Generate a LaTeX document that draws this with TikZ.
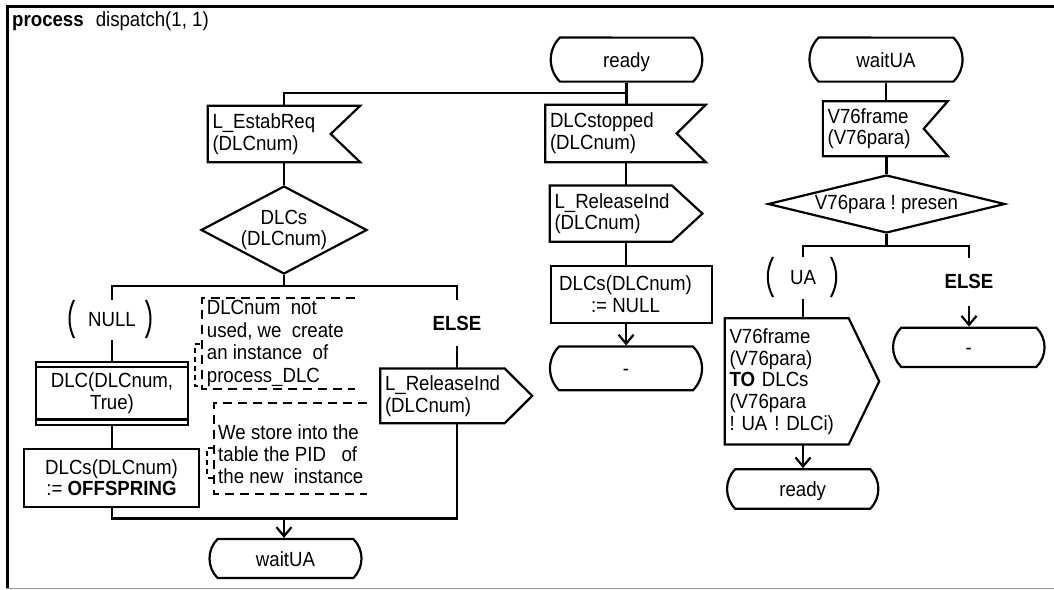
\documentclass[tikz,border=0pt]{standalone}
\usepackage{fontspec}
\setmainfont{Liberation Sans}[FakeStretch=0.91]
\usetikzlibrary{shapes.geometric,shapes.misc,arrows.meta}
\frenchspacing
\newcommand\sdlinput[2]{\draw[ln] (#1.north west) -- (#1.north east) -- ([xshift=-#2pt]#1.east) -- (#1.south east) -- (#1.south west) -- cycle;}
\newcommand\sdloutput[2]{\draw[ln] (#1.north west) -- ([xshift=-#2pt]#1.north east) -- (#1.east) -- ([xshift=-#2pt]#1.south east) -- (#1.south west) -- cycle;}
\newcommand\sdlcreate[1]{\draw[ln] ([yshift=-6.5pt]#1.north west) -- ([yshift=-6.5pt]#1.north east); \draw[ln] ([yshift=6.5pt]#1.south west) -- ([yshift=6.5pt]#1.south east);}
\begin{document}
\frenchspacing
\begin{tikzpicture}[x=1pt,y=-1pt,
  every node/.style={font=\fontsize{20.5}{21.7}\selectfont, inner sep=0pt},
  ln/.style={line width=2.2pt, line join=miter},
  arr/.style={ln, -{Straight Barb[length=9pt,width=15pt]}},
  cmt/.style={line width=2.2pt, dash pattern=on 9pt off 6pt},
  state/.style={draw, ln, rounded rectangle, rounded rectangle arc length=90, text height=15pt, text depth=0pt},
  task/.style={draw, ln, rectangle, align=center},
  dec/.style={draw, ln, diamond, align=center},
  sig/.style={rectangle, align=left, inner xsep=4.5pt, inner ysep=0pt},
  lbl/.style={rectangle, align=center},
  paren/.style={line width=2pt}
]
\useasboundingbox (0,0) rectangle (1054,589);
% frame
\draw[line width=3pt] (7.5,588) -- (7.5,6.7) -- (1054,6.7);
\draw[line width=1.3pt, black!40] (6,588.3) -- (1054,588.3);
\node[anchor=base west] (hdr) at (12,26.5) {\textbf{process}\hspace{12pt}dispatch(1, 1)};

% top states
\node[state, minimum width=151.5pt, minimum height=44pt] (ready) at (626.5,59.6) {ready};
\node[state, minimum width=153pt, minimum height=44pt] (waitT) at (886,59.6) {waitUA};

% inputs
\node[sig, text width=143pt, minimum height=56pt] (estab) at (284,134) {L\_EstabReq\\(DLCnum)};
\sdlinput{estab}{29.5}
\node[sig, text width=151pt, minimum height=57pt] (stopped) at (625.5,133.5) {DLCstopped\\(DLCnum)};
\sdlinput{stopped}{29}
\node[sig, text width=115.5pt, minimum height=54.5pt] (vin) at (885.3,128.7) {V76frame\\(V76para)};
\sdlinput{vin}{24}

% decisions
\node[dec, aspect=1.89, minimum width=166pt, minimum height=88pt] (dlcs) at (284,230) {DLCs\\(DLCnum)};
\node[dec, aspect=4.09, minimum width=237pt, minimum height=58pt] (vdec) at (886.5,204) {V76para ! presen};

% middle column
\node[sig, text width=143.2pt, minimum height=56pt] (rel2) at (626.1,213.6) {L\_ReleaseInd\\(DLCnum)};
\sdloutput{rel2}{30.6}
\node[task, minimum width=161.7pt, minimum height=57.6pt] (tnull) at (631.5,294.5) {DLCs(DLCnum)\hspace*{12pt}\\:= NULL\hspace*{12pt}};
\node[state, minimum width=152pt, minimum height=43.7pt] (dash1) at (626,368.4) {-};

% left branches
\node[lbl, minimum height=39.5pt] (null) at (112,319.75) {NULL};
\draw[paren] (74,300) .. controls (68,312) and (68,326) .. (74,338);
\draw[paren] (146,300) .. controls (152,312) and (152,326) .. (146,338);
\node[lbl, minimum height=46pt, font=\fontsize{20.5}{21.7}\selectfont\bfseries] (else1) at (457,323) {ELSE};
\node[task, minimum width=152pt, minimum height=63pt] (crt) at (112,393.3) {DLC(DLCnum,\\True)};
\sdlcreate{crt}
\node[task, minimum width=175pt, minimum height=57.8pt] (toff) at (111.5,477.8) {DLCs(DLCnum)\\:= \textbf{OFFSPRING}};
\node[sig, text width=142.5pt, minimum height=54.3pt] (rel1) at (456.25,395.85) {L\_ReleaseInd\\(DLCnum)};
\sdloutput{rel1}{27.5}
\node[state, minimum width=152pt, minimum height=39pt] (waitB) at (285.5,558.5) {waitUA};

% comments
\node[anchor=north west, align=left, inner sep=0pt, font=\fontsize{20.5}{22.5}\selectfont] (c1) at (206.7,300) {DLCnum\ \ not\\used, we\ \ create\\an instance\ \ of\\process\_DLC};
\draw[cmt] (355,298) -- (202,298) -- (202,389) -- (355,389);
\draw[cmt, dash pattern=on 5pt off 4pt] (200,344) -- (195,344) -- (195,386) -- (201,386);
\node[anchor=north west, align=left, inner sep=0pt, font=\fontsize{20.5}{22}\selectfont] (c2) at (218,424) {We store into the\\table the PID\ \ \ of\\the new\ \ instance};
\draw[cmt] (367,403) -- (214,403) -- (214,494) -- (367,494);
\draw[cmt, dash pattern=on 5pt off 4pt] (213,448) -- (207.3,448) -- (207.3,478) -- (213,478);

% right column
\node[lbl, minimum height=42pt] (ua) at (803,278) {UA};
\draw[paren] (773,257) .. controls (766,270) and (766,284) .. (773,297);
\draw[paren] (831,257) .. controls (838,270) and (838,284) .. (831,297);
\node[lbl, minimum height=47.6pt, font=\fontsize{20.5}{21.7}\selectfont\bfseries] (else2) at (969,281.8) {ELSE};
\node[sig, text width=145pt, minimum height=125.8pt] (vout) at (802,381.4) {V76frame\\(V76para)\\\textbf{TO} DLCs\\(V76para\\! UA ! DLCi)};
\sdloutput{vout}{30.5}
\node[state, minimum width=151.3pt, minimum height=39.5pt] (readyB) at (802.7,489) {ready};
\node[state, minimum width=151.5pt, minimum height=39.2pt] (dash2) at (968.8,347.3) {-};

% connectors
\coordinate (j1) at (626.5,93);
\draw[ln] (ready.south) -- (ready.south |- stopped.north);
\draw[ln] (j1) -| (estab.north);
\draw[ln] (waitT.south) -- (waitT.south |- vin.north);
\draw[ln] (vin.south -| vdec.north) -- (vdec.north);
\draw[ln] (estab.south) -- (dlcs.north);
\draw[ln] (stopped.south -| rel2.north) -- (rel2.north);
\draw[ln] (rel2.south) -- (rel2.south |- tnull.north);
\draw[arr] (rel2.south |- tnull.south) -- (rel2.south |- dash1.north);

\coordinate (b1) at (284,286);
\draw[ln] (dlcs.south) -- (b1);
\draw[ln] (null.north) -- (null.north |- b1) -- (else1.north |- b1) -- (else1.north);
\draw[ln] (null.south) -- (null.south |- crt.north);
\draw[ln] (else1.south) -- (else1.south |- rel1.north);
\draw[ln] (null.south |- crt.south) -- (null.south |- toff.north);
\coordinate (m1) at (284,518.4);
\draw[ln] (null.south |- toff.south) -- (null.south |- m1) -- (else1.south |- m1) -- (else1.south |- rel1.south);
\draw[arr] (m1) -- (m1 |- waitB.north);

\coordinate (b2) at (886.5,246);
\draw[ln] (vdec.south) -- (b2);
\draw[ln] (ua.north) -- (ua.north |- b2) -- (else2.north |- b2) -- (else2.north);
\draw[ln] (ua.south) -- (ua.south |- vout.north);
\draw[arr] (else2.south) -- (else2.south |- dash2.north);
\draw[arr] (ua.south |- vout.south) -- (ua.south |- readyB.north);
\end{tikzpicture}
\end{document}
